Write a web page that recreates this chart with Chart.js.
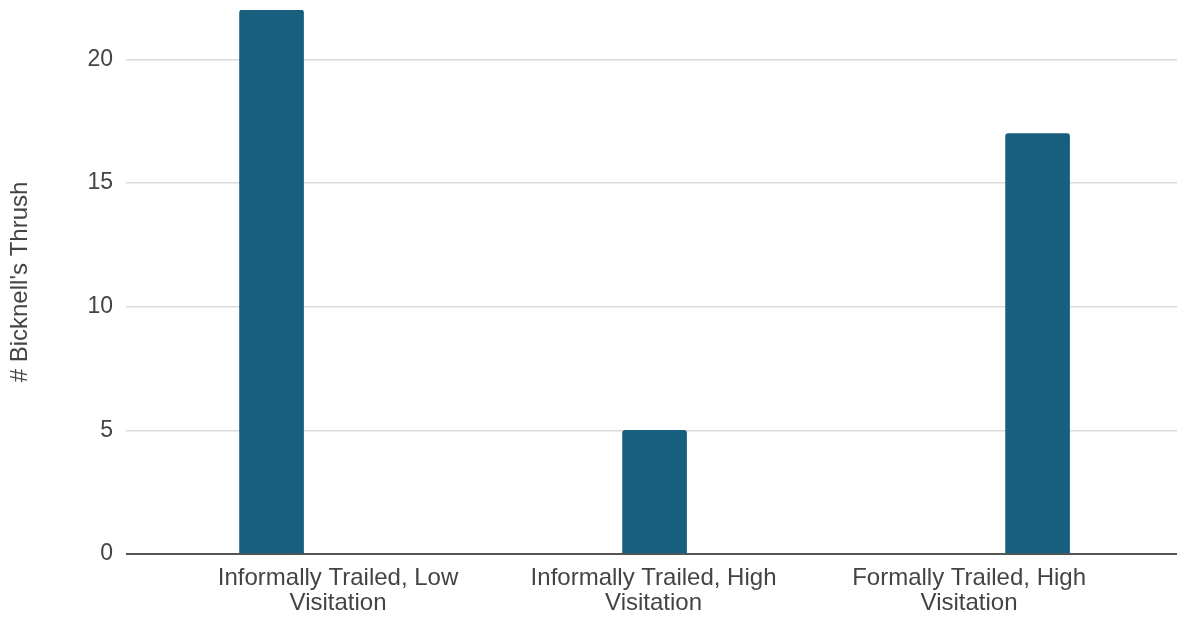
<!DOCTYPE html>
<html>
<head>
<meta charset="utf-8">
<title># Bicknell's Thrush by site type</title>
<script src="https://cdn.jsdelivr.net/npm/chart.js@4"></script>
<style>
  html, body { margin: 0; padding: 0; background: #ffffff; }
  canvas { display: block; }
</style>
</head>
<body>
<canvas id="chart" width="1177" height="617"></canvas>
<script>
// Site categories (each entry is the wrapped label lines)
const categories = [
  ['Informally Trailed, Low', 'Visitation'],
  ['Informally Trailed, High', 'Visitation'],
  ['Formally Trailed, High', 'Visitation']
];

// Bicknell's Thrush counts per site category
const thrushCounts = [22, 5, 17];

// Value axis ticks
const yTicks = [0, 5, 10, 15, 20];
const yMax = 22;

const axisTitle = "# Bicknell's Thrush";

const FONT = "'Liberation Sans', Arial, sans-serif";
const TEXT = '#444444';

const barPoints = thrushCounts.map((v, i) => ({ x: i, y: v }));

new Chart(document.getElementById('chart'), {
  type: 'bar',
  data: {
    datasets: [{
      label: axisTitle,
      data: barPoints,
      backgroundColor: '#175e7f',
      borderWidth: 0,
      borderRadius: { topLeft: 3, topRight: 3, bottomLeft: 0, bottomRight: 0 },
      borderSkipped: 'start',
      barThickness: 64,
      xAxisID: 'x',
      yAxisID: 'y'
    }]
  },
  options: {
    responsive: false,
    animation: false,
    layout: { padding: { top: 10, right: 0, bottom: 0, left: 0 } },
    plugins: {
      legend: { display: false },
      tooltip: { enabled: false }
    },
    scales: {
      // axis that places the bars
      x: {
        type: 'linear',
        position: 'bottom',
        display: false,
        offset: false,
        min: -0.380,
        max: 2.364
      },
      // axis that carries the category labels
      xl: {
        type: 'linear',
        position: 'bottom',
        offset: false,
        min: -0.672,
        max: 2.659,
        grid: { display: false, drawTicks: false },
        border: { display: false },
        afterBuildTicks: (axis) => {
          axis.ticks = categories.map((_, i) => ({ value: i }));
        },
        afterFit: (axis) => {
          axis.height = 63;
          axis.paddingLeft = 0;
          axis.paddingRight = 0;
        },
        ticks: {
          autoSkip: false,
          maxRotation: 0,
          padding: 12,
          color: TEXT,
          font: { family: FONT, size: 24, lineHeight: 1.04 },
          callback: (value) => categories[value]
        }
      },
      y: {
        type: 'linear',
        min: 0,
        max: yMax,
        afterBuildTicks: (axis) => {
          axis.ticks = yTicks.map(v => ({ value: v }));
        },
        afterFit: (axis) => {
          axis.width = 126;
          axis.paddingTop = 0;
          axis.paddingBottom = 0;
        },
        grid: {
          drawTicks: false,
          color: (ctx) => ctx.tick && ctx.tick.value === 0 ? '#555555' : '#dadada',
          lineWidth: (ctx) => ctx.tick && ctx.tick.value === 0 ? 2 : 1.5
        },
        border: { display: false },
        ticks: {
          padding: 13,
          color: TEXT,
          font: { family: FONT, size: 23 },
          callback: (value) => String(value)
        },
        title: {
          display: true,
          text: axisTitle,
          color: TEXT,
          font: { family: FONT, size: 24 },
          padding: { top: 6, bottom: 0 }
        }
      }
    }
  }
});
</script>
</body>
</html>
